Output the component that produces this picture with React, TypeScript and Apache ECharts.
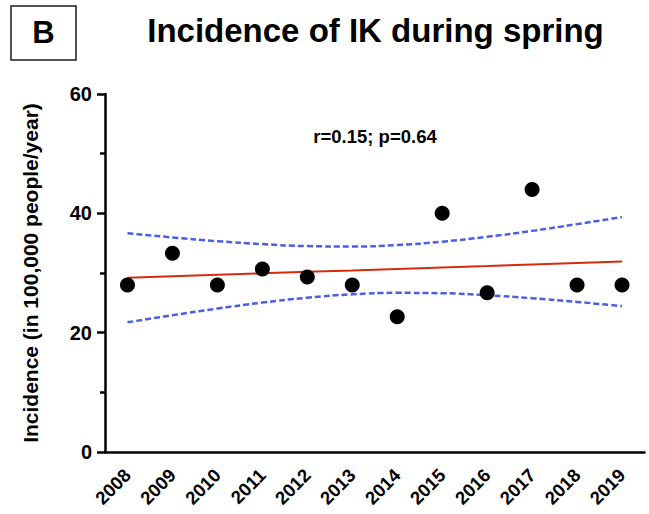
import React, { useEffect, useRef } from "react";
import * as echarts from "echarts";

const years = ["2008", "2009", "2010", "2011", "2012", "2013", "2014", "2015", "2016", "2017", "2018", "2019"];
const incidence = [28.0, 33.33, 28.0, 30.67, 29.33, 28.0, 22.67, 40.0, 26.67, 44.0, 28.0, 28.0];
const fitLine = [29.2, 29.44, 29.69, 29.94, 30.19, 30.43, 30.68, 30.93, 31.17, 31.42, 31.67, 31.91];
const upperBand = [36.66, 35.96, 35.34, 34.84, 34.51, 34.44, 34.69, 35.25, 36.07, 37.06, 38.19, 39.37];
const lowerBand = [21.74, 22.92, 24.04, 25.04, 25.86, 26.42, 26.67, 26.61, 26.27, 25.77, 25.15, 24.45];
const yTicks = [0, 20, 40, 60];

const titleText = "Incidence of IK during spring";
const panelLabel = "B";
const statsText = "r=0.15; p=0.64";
const yAxisName = "Incidence (in 100,000 people/year)";

const FONT = "Liberation Sans, Arial, Helvetica, sans-serif";

export default function App() {
  const ref = useRef<HTMLDivElement>(null);

  useEffect(() => {
    if (!ref.current) return;
    const chart = echarts.init(ref.current, null, { renderer: "svg" });
    chart.setOption({
      animation: false,
      backgroundColor: "#ffffff",
      textStyle: { fontFamily: FONT },
      grid: { left: 105, top: 94, width: 539.5, height: 358, outerBoundsMode: "none" },
      graphic: [
        {
          type: "rect",
          shape: { x: 11, y: 6, width: 65, height: 54 },
          style: { fill: "none", stroke: "#1a1a1a", lineWidth: 1.5 },
        },
        {
          type: "text",
          x: 43.5,
          y: 32.5,
          style: {
            text: panelLabel,
            font: `bold 31px ${FONT}`,
            fill: "#000",
            textAlign: "center",
            textVerticalAlign: "middle",
          },
        },
        {
          type: "text",
          x: 375.5,
          y: 30,
          style: {
            text: titleText,
            font: `bold 33px ${FONT}`,
            fill: "#000",
            textAlign: "center",
            textVerticalAlign: "middle",
          },
        },
        {
          type: "text",
          x: 375,
          y: 136,
          style: {
            text: statsText,
            font: `bold 18.5px ${FONT}`,
            fill: "#000",
            textAlign: "center",
            textVerticalAlign: "middle",
          },
        },
      ],
      xAxis: {
        type: "category",
        data: years,
        boundaryGap: true,
        axisLine: { lineStyle: { color: "#000", width: 2.5 } },
        axisTick: { alignWithLabel: true, length: 8, lineStyle: { color: "#000", width: 2.5 } },
        axisLabel: {
          rotate: 45,
          margin: 20,
          color: "#000",
          fontWeight: "bold",
          fontSize: 18.5,
          fontFamily: FONT,
        },
        splitLine: { show: false },
      },
      yAxis: {
        type: "value",
        min: 0,
        max: 60,
        interval: 20,
        name: yAxisName,
        nameLocation: "middle",
        nameRotate: 90,
        nameGap: 64,
        nameTextStyle: { color: "#000", fontWeight: "bold", fontSize: 21, fontFamily: FONT },
        axisLine: { show: true, lineStyle: { color: "#000", width: 2.5 } },
        axisTick: { show: true, length: 8, lineStyle: { color: "#000", width: 2.5 } },
        minorTick: { show: true, splitNumber: 2, length: 5, lineStyle: { color: "#000", width: 2.5 } },
        axisLabel: {
          margin: 13,
          color: "#000",
          fontWeight: "bold",
          fontSize: 20,
          fontFamily: FONT,
          formatter: (v: number) => (yTicks.includes(v) ? String(v) : ""),
        },
        splitLine: { show: false },
      },
      series: [
        {
          type: "line",
          data: upperBand,
          smooth: true,
          symbol: "none",
          lineStyle: { color: "#4a5fe6", width: 2.5, type: [6, 3] },
          z: 2,
        },
        {
          type: "line",
          data: lowerBand,
          smooth: true,
          symbol: "none",
          lineStyle: { color: "#4a5fe6", width: 2.5, type: [6, 3] },
          z: 2,
        },
        {
          type: "line",
          data: fitLine,
          symbol: "none",
          lineStyle: { color: "#d62b0c", width: 2 },
          z: 3,
        },
        {
          type: "scatter",
          data: incidence,
          symbol: "circle",
          symbolSize: 15,
          itemStyle: { color: "#000", opacity: 1 },
          z: 4,
        },
      ],
    });
    return () => chart.dispose();
  }, []);

  return (
    <div
      ref={ref}
      style={{ position: "fixed", left: 0, top: 0, width: 649, height: 514 }}
    />
  );
}
